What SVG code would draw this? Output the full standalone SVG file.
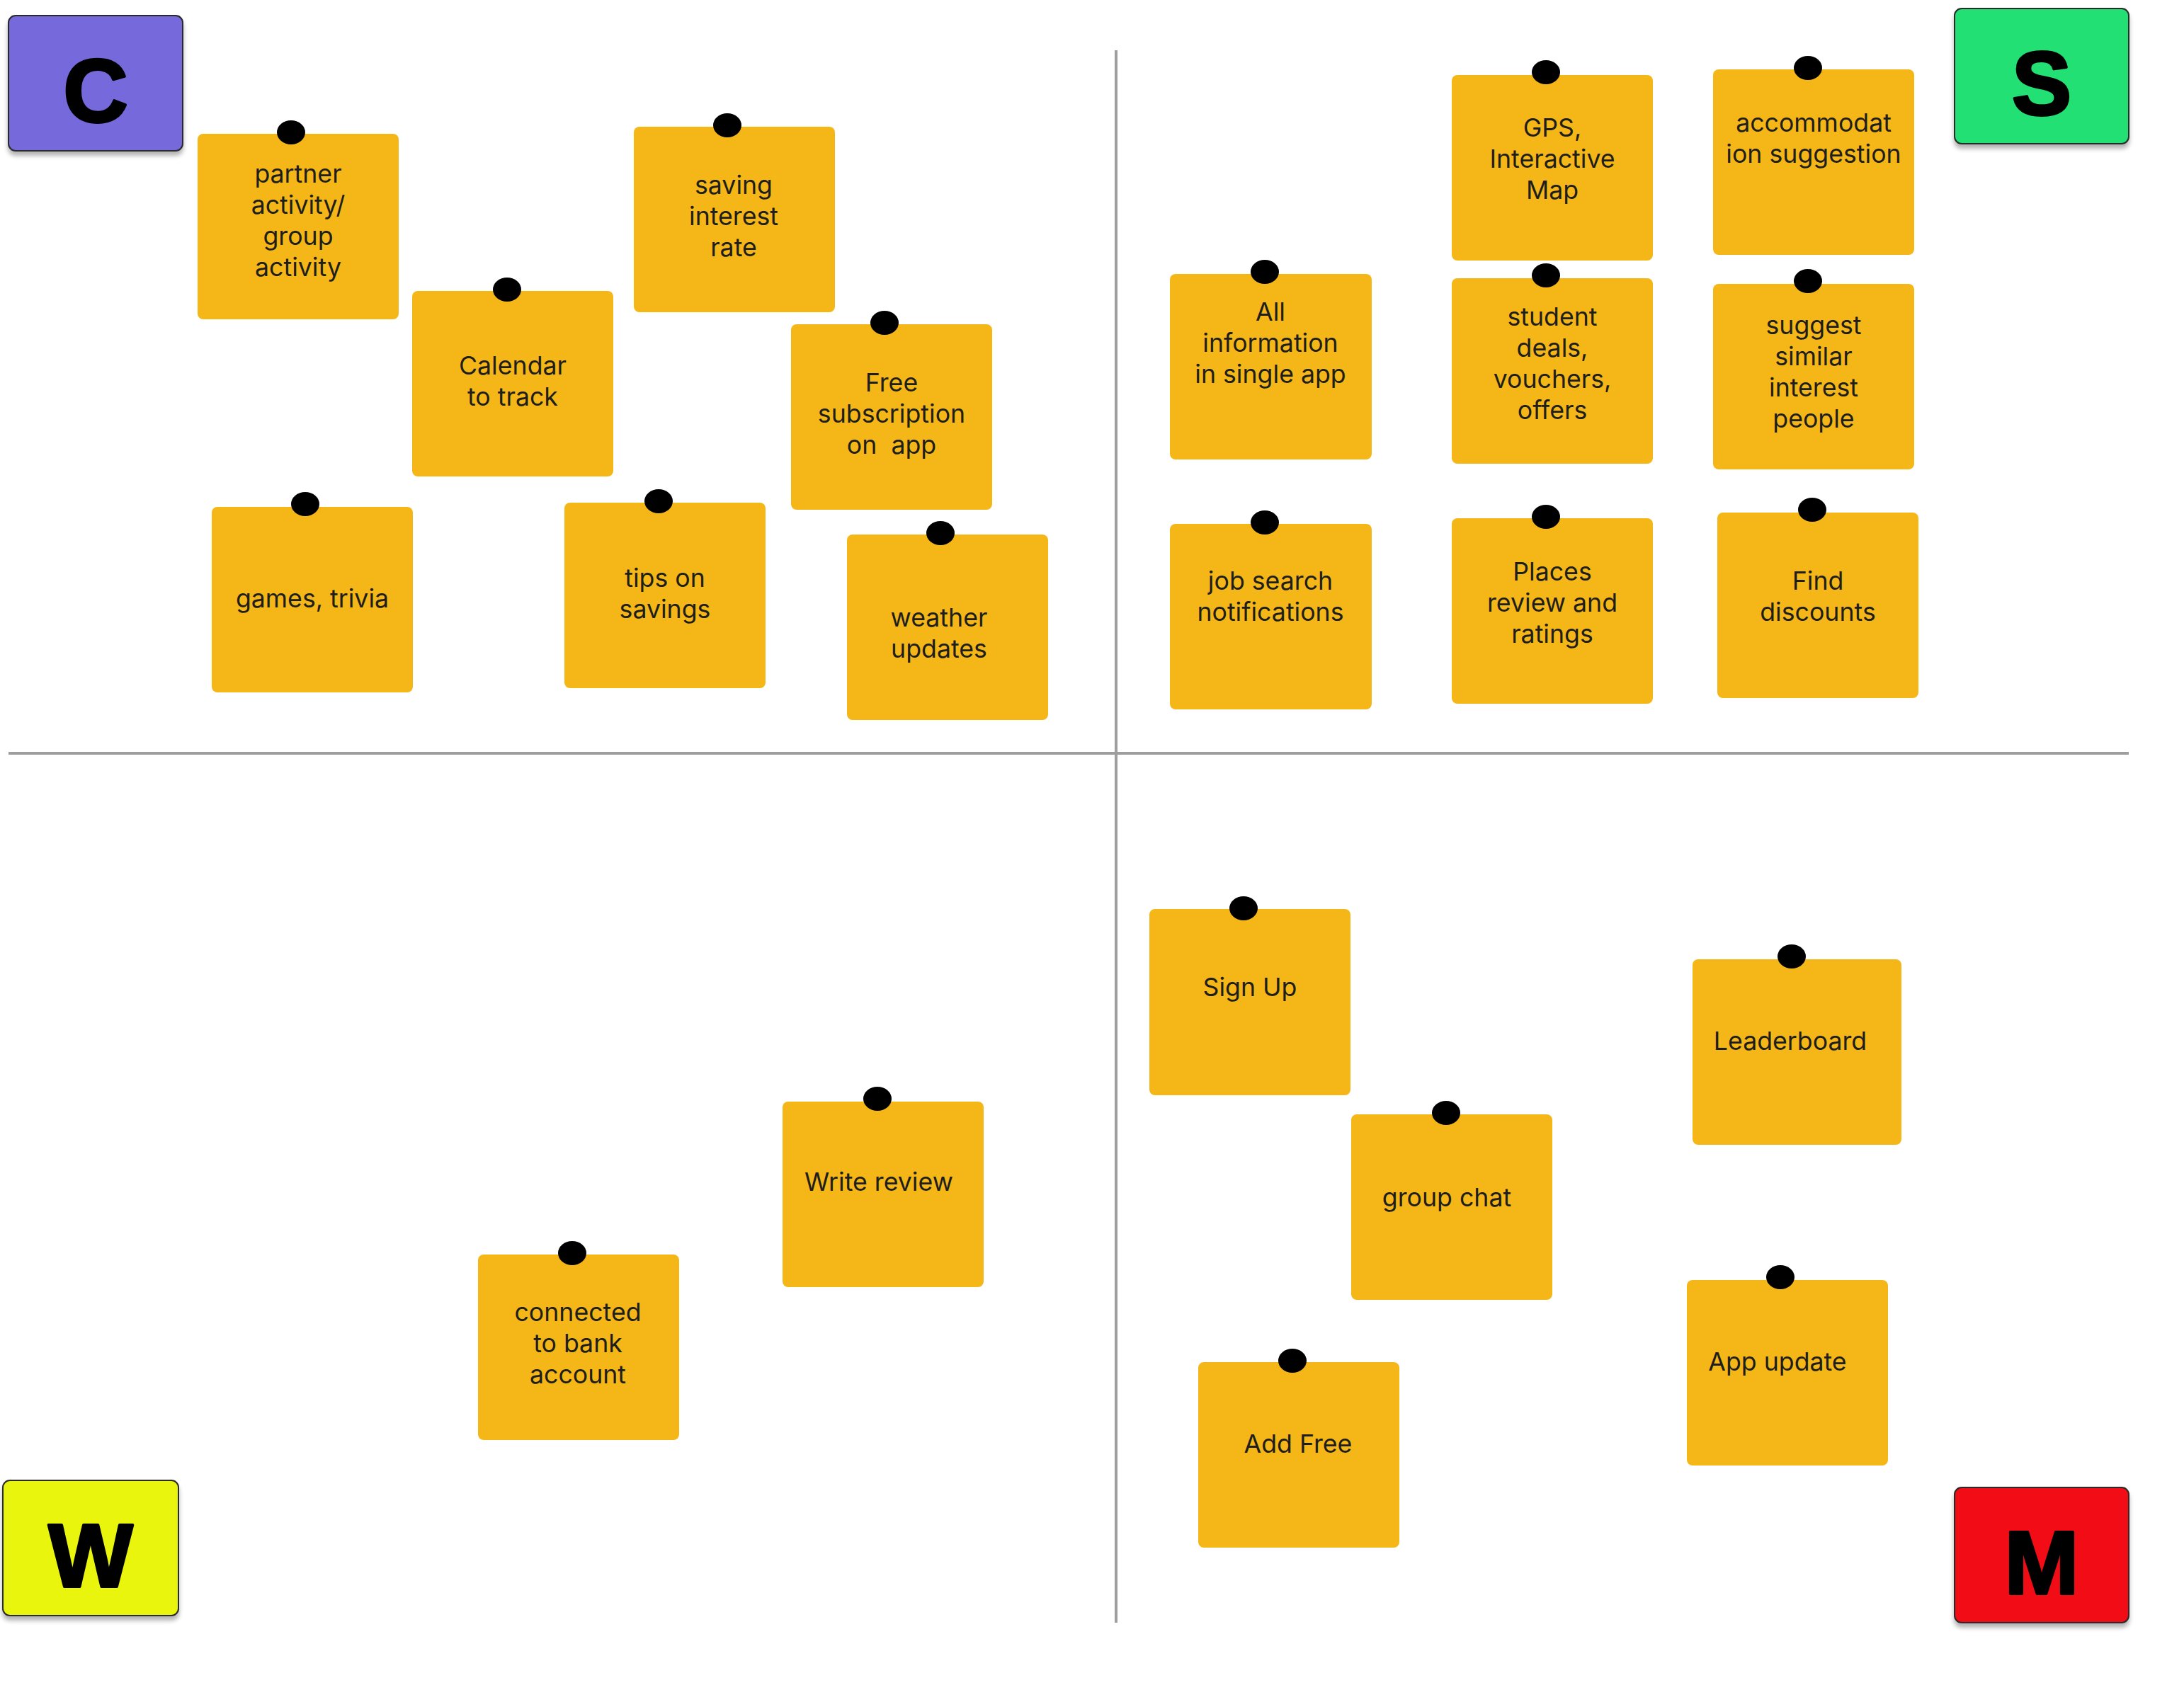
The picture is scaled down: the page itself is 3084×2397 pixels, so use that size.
<svg xmlns="http://www.w3.org/2000/svg" width="3084" height="2397" viewBox="0 0 3084 2397">
<style>
.note{fill:#F5B617}
.pin{fill:#000}
.t{font-family:Inter,"Noto Sans",sans-serif;font-size:35.7px;fill:#1E1E1E;text-anchor:middle;white-space:pre}
.box{stroke:#2a2a2a;stroke-width:2}
.L{font-family:"Liberation Sans",Arial,sans-serif;font-weight:bold;font-size:126px;fill:#000;stroke:#000;stroke-width:4;stroke-linejoin:round;text-anchor:middle}
.axis{stroke:#9E9E9E;stroke-width:4;fill:none}
</style>
<defs>
<filter id="sh" x="-10%" y="-10%" width="120%" height="130%">
<feGaussianBlur in="SourceAlpha" stdDeviation="3"/>
<feOffset dy="6"/>
<feComponentTransfer><feFuncA type="linear" slope="0.3"/></feComponentTransfer>
<feMerge><feMergeNode/><feMergeNode in="SourceGraphic"/></feMerge>
</filter>
</defs>
<rect width="3084" height="2397" fill="#fff"/>
<g id="connectors">
<line class="axis" x1="1576" y1="71" x2="1576" y2="2292"/>
<line class="axis" x1="12" y1="1064" x2="3006" y2="1064"/>
</g>
<g id="box-C"><rect class="box" x="12" y="22" width="246" height="191" rx="10" fill="#7669DC" filter="url(#sh)"/><text class="L" x="135" y="172">C</text></g>
<g id="box-S"><rect class="box" x="2760" y="12" width="246" height="191" rx="10" fill="#20E073" filter="url(#sh)"/><text class="L" x="2883" y="162">S</text></g>
<g id="box-W"><rect class="box" x="4" y="2091" width="248" height="191" rx="10" fill="#EAF50A" filter="url(#sh)"/><text class="L" x="128" y="2241">W</text></g>
<g id="box-M"><rect class="box" x="2760" y="2101" width="246" height="191" rx="10" fill="#F20C12" filter="url(#sh)"/><text class="L" x="2883" y="2251">M</text></g>

<g id="n1"><rect class="note" x="279" y="189" width="284" height="262" rx="8"/><ellipse class="pin" cx="411" cy="187" rx="20" ry="17"/><text class="t"><tspan x="421" y="258">partner</tspan><tspan x="421" y="302">activity/</tspan><tspan x="421" y="346">group</tspan><tspan x="421" y="390">activity</tspan></text></g>
<g id="n2"><rect class="note" x="895" y="179" width="284" height="262" rx="8"/><ellipse class="pin" cx="1027" cy="177" rx="20" ry="17"/><text class="t"><tspan x="1036" y="274">saving</tspan><tspan x="1036" y="318">interest</tspan><tspan x="1036" y="362">rate</tspan></text></g>
<g id="n3"><rect class="note" x="582" y="411" width="284" height="262" rx="8"/><ellipse class="pin" cx="716" cy="409" rx="20" ry="17"/><text class="t"><tspan x="724" y="529">Calendar</tspan><tspan x="724" y="573">to track</tspan></text></g>
<g id="n4"><rect class="note" x="1117" y="458" width="284" height="262" rx="8"/><ellipse class="pin" cx="1249" cy="456" rx="20" ry="17"/><text class="t"><tspan x="1259" y="553">Free</tspan><tspan x="1259" y="597">subscription</tspan><tspan x="1259" y="641">on  app</tspan></text></g>
<g id="n5"><rect class="note" x="299" y="716" width="284" height="262" rx="8"/><ellipse class="pin" cx="431" cy="712" rx="20" ry="17"/><text class="t" x="441" y="858">games, trivia</text></g>
<g id="n6"><rect class="note" x="797" y="710" width="284" height="262" rx="8"/><ellipse class="pin" cx="930" cy="708" rx="20" ry="17"/><text class="t"><tspan x="939" y="829">tips on</tspan><tspan x="939" y="873">savings</tspan></text></g>
<g id="n7"><rect class="note" x="1196" y="755" width="284" height="262" rx="8"/><ellipse class="pin" cx="1328" cy="753" rx="20" ry="17"/><text class="t"><tspan x="1326" y="885">weather</tspan><tspan x="1326" y="929">updates</tspan></text></g>

<g id="n8"><rect class="note" x="1652" y="387" width="285" height="262" rx="8"/><ellipse class="pin" cx="1786" cy="384" rx="20" ry="17"/><text class="t"><tspan x="1794" y="453">All</tspan><tspan x="1794" y="497">information</tspan><tspan x="1794" y="541">in single app</tspan></text></g>
<g id="n9"><rect class="note" x="2050" y="106" width="284" height="262" rx="8"/><ellipse class="pin" cx="2183" cy="102" rx="20" ry="17"/><text class="t"><tspan x="2192" y="193">GPS,</tspan><tspan x="2192" y="237">Interactive</tspan><tspan x="2192" y="281">Map</tspan></text></g>
<g id="n10"><rect class="note" x="2419" y="98" width="284" height="262" rx="8"/><ellipse class="pin" cx="2553" cy="96" rx="20" ry="17"/><text class="t"><tspan x="2561" y="186">accommodat</tspan><tspan x="2561" y="230">ion suggestion</tspan></text></g>
<g id="n11"><rect class="note" x="2050" y="393" width="284" height="262" rx="8"/><ellipse class="pin" cx="2183" cy="389" rx="20" ry="17"/><text class="t"><tspan x="2192" y="460">student</tspan><tspan x="2192" y="504">deals,</tspan><tspan x="2192" y="548">vouchers,</tspan><tspan x="2192" y="592">offers</tspan></text></g>
<g id="n12"><rect class="note" x="2419" y="401" width="284" height="262" rx="8"/><ellipse class="pin" cx="2553" cy="397" rx="20" ry="17"/><text class="t"><tspan x="2561" y="472">suggest</tspan><tspan x="2561" y="516">similar</tspan><tspan x="2561" y="560">interest</tspan><tspan x="2561" y="604">people</tspan></text></g>
<g id="n13"><rect class="note" x="1652" y="740" width="285" height="262" rx="8"/><ellipse class="pin" cx="1786" cy="738" rx="20" ry="17"/><text class="t"><tspan x="1794" y="833">job search</tspan><tspan x="1794" y="877">notifications</tspan></text></g>
<g id="n14"><rect class="note" x="2050" y="732" width="284" height="262" rx="8"/><ellipse class="pin" cx="2183" cy="730" rx="20" ry="17"/><text class="t"><tspan x="2192" y="820">Places</tspan><tspan x="2192" y="864">review and</tspan><tspan x="2192" y="908">ratings</tspan></text></g>
<g id="n15"><rect class="note" x="2425" y="724" width="284" height="262" rx="8"/><ellipse class="pin" cx="2559" cy="720" rx="20" ry="17"/><text class="t"><tspan x="2567" y="833">Find</tspan><tspan x="2567" y="877">discounts</tspan></text></g>

<g id="n16"><rect class="note" x="1623" y="1284" width="284" height="263" rx="8"/><ellipse class="pin" cx="1756" cy="1283" rx="20" ry="17"/><text class="t" x="1765" y="1407">Sign Up</text></g>
<g id="n17"><rect class="note" x="2390" y="1355" width="295" height="262" rx="8"/><ellipse class="pin" cx="2530" cy="1351" rx="20" ry="17"/><text class="t" x="2528" y="1483">Leaderboard</text></g>
<g id="n18"><rect class="note" x="1908" y="1574" width="284" height="262" rx="8"/><ellipse class="pin" cx="2042" cy="1572" rx="20" ry="17"/><text class="t" x="2043" y="1704">group chat</text></g>
<g id="n19"><rect class="note" x="2382" y="1808" width="284" height="262" rx="8"/><ellipse class="pin" cx="2514" cy="1804" rx="20" ry="17"/><text class="t" x="2510" y="1936">App update</text></g>
<g id="n20"><rect class="note" x="1692" y="1924" width="284" height="262" rx="8"/><ellipse class="pin" cx="1825" cy="1922" rx="20" ry="17"/><text class="t" x="1833" y="2052">Add Free</text></g>
<g id="n21"><rect class="note" x="1105" y="1556" width="284" height="262" rx="8"/><ellipse class="pin" cx="1239" cy="1552" rx="20" ry="17"/><text class="t" x="1241" y="1682">Write review</text></g>
<g id="n22"><rect class="note" x="675" y="1772" width="284" height="262" rx="8"/><ellipse class="pin" cx="808" cy="1770" rx="20" ry="17"/><text class="t"><tspan x="816" y="1866">connected</tspan><tspan x="816" y="1910">to bank</tspan><tspan x="816" y="1954">account</tspan></text></g>
</svg>
